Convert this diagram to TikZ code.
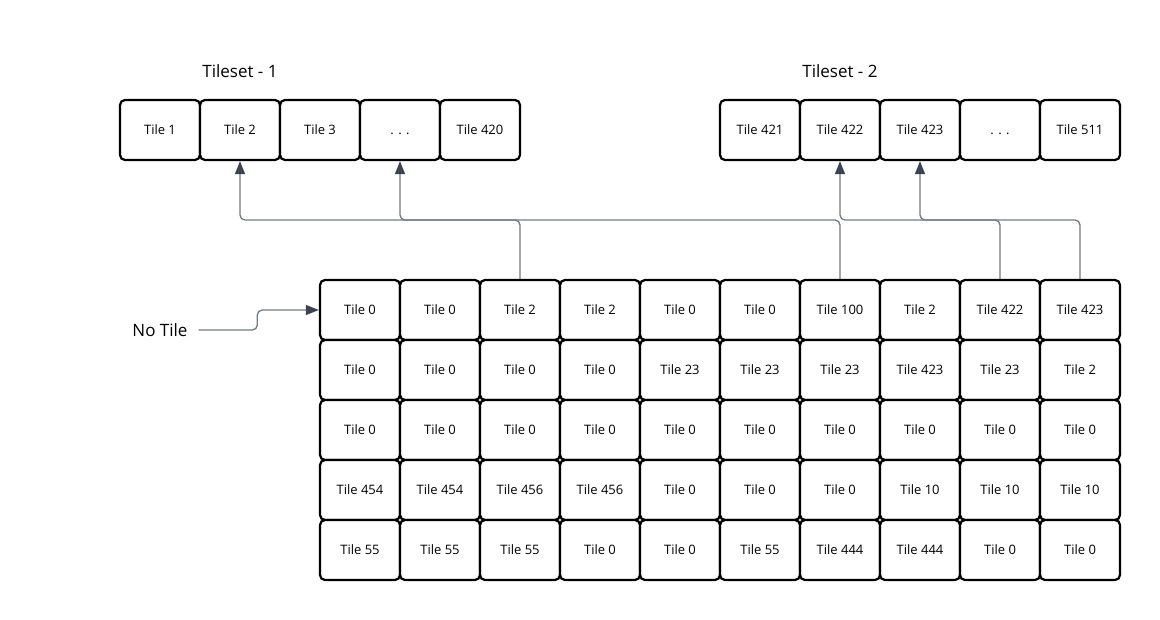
\documentclass[tikz,border=0pt]{standalone}
\usepackage{fontspec}
\setmainfont{Open Sans}
\usetikzlibrary{arrows.meta,calc}
\definecolor{wire}{HTML}{747A84}
\definecolor{tipc}{HTML}{3D4350}
\newcommand{\gapdots}{. . .\vphantom{Tile 0}}
\begin{document}
\begin{tikzpicture}[x=1pt,y=-1pt,
  tilebox/.style={draw=black,line width=2.2pt,rounded corners=5pt,fill=white,
    minimum width=80pt,minimum height=60pt,inner sep=0pt,font=\fontsize{13}{15}\selectfont},
  heading/.style={font=\fontsize{17}{20}\selectfont,inner sep=0pt},
  conn/.style={draw=wire,line width=1.3pt,rounded corners=5pt,
    -{Triangle[length=13pt,width=10pt,color=tipc]}}]
\useasboundingbox (0,0) rectangle (1160,620);

% tileset strips
\node[heading] (h1) at (240,71) {Tileset - 1};
\node[heading] (h2) at (840,71) {Tileset - 2};
\foreach \lab [count=\i from 0] in {Tile 1,Tile 2,Tile 3,\gapdots,Tile 420}
  \node[tilebox] (a\i) at (160+80*\i,130) {\lab};
\foreach \lab [count=\i from 0] in {Tile 421,Tile 422,Tile 423,\gapdots,Tile 511}
  \node[tilebox] (b\i) at (760+80*\i,130) {\lab};

% map grid
\foreach \row [count=\r from 0] in {
  {0,0,2,2,0,0,100,2,422,423},
  {0,0,0,0,23,23,23,423,23,2},
  {0,0,0,0,0,0,0,0,0,0},
  {454,454,456,456,0,0,0,10,10,10},
  {55,55,55,0,0,55,444,444,0,0}}
  \foreach \v [count=\c from 0] in \row
    \node[tilebox] (g\r\c) at (360+80*\c,310+60*\r) {Tile \v};

% references from the map into the tilesets
\coordinate (bus) at (0,220);
\draw[conn] (g02.north) -- (g02.north |- bus) -| (a1.south);
\draw[conn] (g06.north) -- (g06.north |- bus) -| (a3.south);
\draw[conn] (g08.north) -- (g08.north |- bus) -| (b1.south);
\draw[conn] (g09.north) -- (g09.north |- bus) -| (b2.south);

% empty cell marker
\node[heading] (nt) at (160,330) {No Tile};
\draw[conn] ([xshift=11pt]nt.east) -| ($(nt.east)!0.5!(g00.west)+(4,0)$) |- (g00.west);
\end{tikzpicture}
\end{document}
